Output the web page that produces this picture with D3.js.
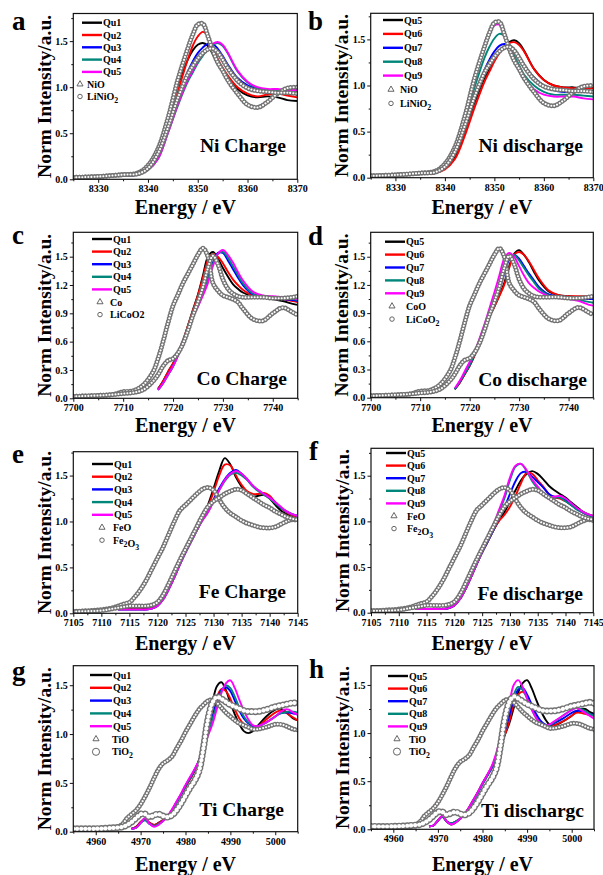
<!DOCTYPE html>
<html>
<head>
<meta charset="utf-8">
<script src="https://cdn.jsdelivr.net/npm/d3@7"></script>
<style>
body { margin: 0; background: #fff; }
svg { display: block; }
text { font-family: "Liberation Serif", "Times New Roman", "DejaVu Serif", serif; font-weight: bold; fill: #000; }
</style>
</head>
<body>
<svg id="fig" width="603" height="875"></svg>
<script>
// ---------- Ni K-edge ----------
var niEnergy = [8325, 8330, 8335, 8338, 8340, 8342, 8344, 8346, 8348, 8349, 8350, 8351, 8352, 8353, 8354, 8355, 8356, 8358, 8360, 8362, 8364, 8366, 8368, 8370];
var niQu1 = [null, null, 0.04, 0.06, 0.14, 0.33, 0.66, 1.02, 1.30, 1.40, 1.46, 1.48, 1.45, 1.36, 1.25, 1.17, 1.10, 0.98, 0.91, 0.89, 0.90, 0.89, 0.86, 0.85];
var niQu2 = [null, null, 0.04, 0.06, 0.13, 0.28, 0.58, 0.95, 1.30, 1.45, 1.55, 1.60, 1.56, 1.44, 1.31, 1.21, 1.13, 1.00, 0.93, 0.90, 0.92, 0.93, 0.91, 0.89];
var niQu3 = [null, null, 0.04, 0.05, 0.11, 0.25, 0.55, 0.90, 1.17, 1.28, 1.37, 1.43, 1.47, 1.47, 1.42, 1.34, 1.25, 1.10, 1.02, 0.98, 0.96, 0.96, 0.96, 0.96];
var niQu4 = [null, null, 0.04, 0.05, 0.10, 0.22, 0.50, 0.80, 1.06, 1.16, 1.26, 1.34, 1.41, 1.46, 1.48, 1.45, 1.37, 1.17, 1.05, 0.99, 0.97, 0.96, 0.96, 0.95];
var niQu5 = [null, null, 0.04, 0.05, 0.10, 0.22, 0.50, 0.81, 1.08, 1.18, 1.28, 1.36, 1.42, 1.47, 1.49, 1.46, 1.38, 1.18, 1.06, 1.00, 0.98, 0.98, 0.97, 0.97];
var niQu6 = [null, null, 0.04, 0.05, 0.09, 0.20, 0.45, 0.76, 1.04, 1.15, 1.26, 1.35, 1.42, 1.46, 1.47, 1.44, 1.37, 1.18, 1.06, 1.00, 0.98, 0.97, 0.97, 0.97];
var niQu7 = [null, null, 0.04, 0.06, 0.12, 0.27, 0.57, 0.90, 1.17, 1.28, 1.37, 1.43, 1.45, 1.44, 1.38, 1.30, 1.22, 1.09, 1.00, 0.95, 0.93, 0.93, 0.93, 0.93];
var niQu8 = [null, null, 0.04, 0.06, 0.13, 0.30, 0.62, 0.98, 1.30, 1.42, 1.51, 1.56, 1.54, 1.45, 1.33, 1.22, 1.12, 1.00, 0.93, 0.90, 0.90, 0.90, 0.89, 0.88];
var niQu9 = [null, null, 0.04, 0.07, 0.15, 0.34, 0.68, 1.08, 1.42, 1.56, 1.65, 1.66, 1.54, 1.38, 1.26, 1.16, 1.08, 0.96, 0.90, 0.88, 0.88, 0.88, 0.86, 0.85];
var niNiO = [0.02, 0.03, 0.05, 0.07, 0.15, 0.33, 0.66, 1.08, 1.42, 1.57, 1.68, 1.69, 1.56, 1.40, 1.27, 1.18, 1.08, 0.93, 0.81, 0.78, 0.84, 0.93, 0.99, 1.00];
var niLiNiO2 = [0.02, 0.03, 0.05, 0.06, 0.12, 0.28, 0.56, 0.88, 1.14, 1.23, 1.31, 1.37, 1.41, 1.42, 1.38, 1.30, 1.21, 1.07, 0.99, 0.96, 0.95, 0.94, 0.94, 0.93];

// ---------- Co K-edge ----------
var coEnergy = [7700, 7705, 7708, 7710, 7712, 7714, 7716, 7717, 7718, 7719, 7720, 7721, 7722, 7723, 7724, 7725, 7726, 7727, 7728, 7729, 7730, 7731, 7732, 7733, 7734, 7736, 7738, 7740, 7742, 7744, 7745];
var coQu1 = [null, null, null, null, null, null, null, 0.10, 0.18, 0.28, 0.37, 0.48, 0.61, 0.77, 0.94, 1.10, 1.30, 1.50, 1.55, 1.48, 1.38, 1.29, 1.21, 1.16, 1.12, 1.08, 1.07, 1.05, 1.03, 1.00, 0.99];
var coQu2 = [null, null, null, null, null, null, null, 0.10, 0.18, 0.28, 0.37, 0.48, 0.61, 0.77, 0.93, 1.09, 1.28, 1.46, 1.53, 1.50, 1.43, 1.34, 1.26, 1.20, 1.15, 1.09, 1.08, 1.07, 1.05, 1.03, 1.02];
var coQu3 = [null, null, null, null, null, null, null, 0.09, 0.16, 0.25, 0.34, 0.46, 0.60, 0.74, 0.88, 1.00, 1.12, 1.28, 1.44, 1.54, 1.54, 1.46, 1.37, 1.28, 1.20, 1.10, 1.08, 1.06, 1.05, 1.04, 1.03];
var coQu4 = [null, null, null, null, null, null, null, 0.09, 0.16, 0.25, 0.34, 0.46, 0.60, 0.74, 0.87, 0.99, 1.11, 1.26, 1.42, 1.53, 1.55, 1.49, 1.40, 1.31, 1.22, 1.11, 1.08, 1.07, 1.06, 1.05, 1.04];
var coQu5 = [null, null, null, null, null, null, null, 0.09, 0.16, 0.25, 0.34, 0.45, 0.59, 0.73, 0.86, 0.97, 1.09, 1.22, 1.40, 1.53, 1.57, 1.52, 1.44, 1.34, 1.25, 1.13, 1.09, 1.08, 1.07, 1.06, 1.05];
var coQu6 = [null, null, null, null, null, null, null, 0.09, 0.16, 0.25, 0.34, 0.45, 0.59, 0.73, 0.86, 0.97, 1.08, 1.20, 1.38, 1.52, 1.55, 1.52, 1.45, 1.36, 1.27, 1.14, 1.09, 1.08, 1.08, 1.08, 1.08];
var coQu7 = [null, null, null, null, null, null, null, 0.09, 0.17, 0.26, 0.35, 0.47, 0.61, 0.75, 0.89, 1.02, 1.15, 1.32, 1.47, 1.52, 1.48, 1.40, 1.32, 1.25, 1.18, 1.10, 1.08, 1.07, 1.06, 1.05, 1.05];
var coQu8 = [null, null, null, null, null, null, null, 0.09, 0.17, 0.26, 0.35, 0.47, 0.61, 0.76, 0.90, 1.04, 1.18, 1.36, 1.49, 1.52, 1.46, 1.38, 1.30, 1.23, 1.16, 1.09, 1.07, 1.06, 1.04, 1.02, 1.01];
var coQu9 = [null, null, null, null, null, null, null, 0.10, 0.18, 0.28, 0.38, 0.49, 0.63, 0.78, 0.95, 1.12, 1.30, 1.48, 1.54, 1.50, 1.40, 1.30, 1.22, 1.17, 1.13, 1.08, 1.06, 1.05, 1.03, 0.99, 0.98];
var coCoO = [0.02, 0.03, 0.04, 0.07, 0.08, 0.14, 0.28, 0.42, 0.60, 0.80, 0.98, 1.10, 1.22, 1.32, 1.42, 1.52, 1.59, 1.50, 1.22, 1.14, 1.09, 1.07, 1.05, 1.02, 0.95, 0.84, 0.82, 0.90, 0.96, 0.91, 0.88];
var coLiCoO2 = [0.02, 0.03, 0.04, 0.05, 0.06, 0.09, 0.18, 0.25, 0.34, 0.40, 0.42, 0.48, 0.58, 0.72, 0.88, 1.02, 1.18, 1.38, 1.51, 1.42, 1.26, 1.16, 1.11, 1.08, 1.07, 1.07, 1.07, 1.06, 1.06, 1.07, 1.08];

// ---------- Fe K-edge ----------
var feEnergy = [7105, 7110, 7112, 7113, 7114, 7115, 7116, 7117, 7118, 7119, 7120, 7121, 7122, 7123, 7124, 7125, 7126, 7127, 7128, 7129, 7130, 7131, 7132, 7133, 7134, 7135, 7136, 7137, 7138, 7139, 7140, 7141, 7142, 7143, 7144, 7145];
var feQu1 = [null, null, null, 0.05, 0.05, 0.05, 0.05, 0.05, 0.05, 0.06, 0.09, 0.16, 0.27, 0.40, 0.54, 0.67, 0.79, 0.91, 1.03, 1.18, 1.36, 1.55, 1.69, 1.62, 1.48, 1.38, 1.30, 1.27, 1.28, 1.29, 1.25, 1.18, 1.12, 1.08, 1.05, 1.03];
var feQu2 = [null, null, null, 0.05, 0.05, 0.05, 0.05, 0.05, 0.05, 0.06, 0.09, 0.16, 0.27, 0.40, 0.54, 0.67, 0.79, 0.91, 1.03, 1.16, 1.32, 1.50, 1.62, 1.61, 1.50, 1.40, 1.33, 1.30, 1.30, 1.31, 1.28, 1.21, 1.15, 1.10, 1.07, 1.05];
var feQu3 = [null, null, null, 0.04, 0.04, 0.04, 0.04, 0.04, 0.04, 0.05, 0.08, 0.15, 0.26, 0.39, 0.53, 0.66, 0.78, 0.90, 1.02, 1.12, 1.24, 1.36, 1.46, 1.53, 1.56, 1.52, 1.46, 1.39, 1.34, 1.30, 1.26, 1.21, 1.15, 1.11, 1.08, 1.06];
var feQu4 = [null, null, null, 0.04, 0.04, 0.04, 0.04, 0.04, 0.04, 0.05, 0.08, 0.15, 0.26, 0.39, 0.53, 0.66, 0.78, 0.90, 1.01, 1.10, 1.22, 1.34, 1.44, 1.51, 1.53, 1.50, 1.45, 1.38, 1.33, 1.29, 1.25, 1.20, 1.15, 1.11, 1.08, 1.06];
var feQu5 = [null, null, null, 0.04, 0.04, 0.04, 0.04, 0.04, 0.04, 0.05, 0.08, 0.15, 0.26, 0.39, 0.53, 0.66, 0.78, 0.90, 1.01, 1.10, 1.22, 1.34, 1.45, 1.52, 1.55, 1.52, 1.46, 1.39, 1.34, 1.30, 1.26, 1.21, 1.16, 1.11, 1.08, 1.06];
var feQu6 = [null, null, null, 0.04, 0.04, 0.04, 0.04, 0.04, 0.04, 0.05, 0.08, 0.15, 0.26, 0.39, 0.53, 0.66, 0.78, 0.90, 1.00, 1.07, 1.16, 1.28, 1.42, 1.53, 1.52, 1.45, 1.38, 1.30, 1.26, 1.25, 1.22, 1.18, 1.14, 1.10, 1.07, 1.05];
var feQu7 = [null, null, null, 0.04, 0.04, 0.04, 0.04, 0.04, 0.04, 0.05, 0.08, 0.15, 0.26, 0.39, 0.53, 0.66, 0.78, 0.90, 1.03, 1.15, 1.30, 1.44, 1.53, 1.54, 1.49, 1.43, 1.37, 1.30, 1.27, 1.26, 1.23, 1.18, 1.14, 1.10, 1.07, 1.05];
var feQu8 = [null, null, null, 0.04, 0.04, 0.04, 0.04, 0.04, 0.04, 0.05, 0.08, 0.15, 0.26, 0.39, 0.53, 0.67, 0.80, 0.94, 1.10, 1.25, 1.45, 1.60, 1.63, 1.55, 1.44, 1.36, 1.29, 1.25, 1.26, 1.26, 1.22, 1.18, 1.13, 1.10, 1.07, 1.05];
var feQu9 = [null, null, null, 0.04, 0.04, 0.04, 0.04, 0.04, 0.04, 0.05, 0.08, 0.15, 0.26, 0.39, 0.53, 0.67, 0.81, 0.96, 1.12, 1.28, 1.48, 1.61, 1.63, 1.56, 1.46, 1.38, 1.31, 1.27, 1.27, 1.28, 1.25, 1.20, 1.15, 1.11, 1.08, 1.06];
var feFeO = [0.02, 0.04, 0.06, 0.08, 0.10, 0.12, 0.18, 0.26, 0.36, 0.48, 0.60, 0.72, 0.86, 1.00, 1.12, 1.18, 1.24, 1.30, 1.35, 1.37, 1.34, 1.24, 1.15, 1.09, 1.05, 1.01, 0.98, 0.96, 0.94, 0.93, 0.93, 0.94, 0.97, 1.00, 1.02, 1.01];
var feFe2O3 = [0.02, 0.03, 0.05, 0.06, 0.07, 0.08, 0.08, 0.08, 0.08, 0.09, 0.12, 0.20, 0.32, 0.45, 0.58, 0.70, 0.82, 0.94, 1.06, 1.16, 1.22, 1.26, 1.30, 1.33, 1.35, 1.34, 1.30, 1.26, 1.22, 1.18, 1.15, 1.11, 1.08, 1.05, 1.03, 1.02];

// ---------- Ti K-edge ----------
var tiEnergy = [4955, 4960, 4964, 4966, 4967, 4968, 4969, 4970, 4971, 4972, 4973, 4974, 4975, 4976, 4977, 4978, 4979, 4980, 4981, 4982, 4983, 4984, 4985, 4986, 4987, 4988, 4989, 4990, 4991, 4992, 4993, 4994, 4995, 4996, 4998, 5000, 5001, 5002, 5003, 5004, 5005];
var tiQu1 = [null, null, null, null, null, 0.03, 0.05, 0.10, 0.13, 0.09, 0.07, 0.09, 0.12, 0.16, 0.22, 0.30, 0.38, 0.46, 0.54, 0.62, 0.73, 0.90, 1.10, 1.32, 1.49, 1.53, 1.45, 1.32, 1.20, 1.10, 1.03, 1.01, 1.03, 1.08, 1.18, 1.25, 1.26, 1.24, 1.20, 1.16, 1.14];
var tiQu2 = [null, null, null, null, null, 0.03, 0.05, 0.10, 0.13, 0.09, 0.07, 0.09, 0.12, 0.16, 0.22, 0.30, 0.38, 0.46, 0.54, 0.62, 0.72, 0.87, 1.04, 1.22, 1.38, 1.46, 1.44, 1.36, 1.25, 1.16, 1.10, 1.06, 1.05, 1.07, 1.15, 1.22, 1.24, 1.23, 1.20, 1.17, 1.14];
var tiQu3 = [null, null, null, null, null, 0.03, 0.04, 0.09, 0.12, 0.08, 0.06, 0.08, 0.11, 0.16, 0.22, 0.30, 0.38, 0.47, 0.55, 0.63, 0.73, 0.86, 1.02, 1.18, 1.34, 1.45, 1.48, 1.44, 1.34, 1.24, 1.16, 1.11, 1.08, 1.08, 1.12, 1.18, 1.21, 1.22, 1.22, 1.21, 1.20];
var tiQu4 = [null, null, null, null, null, 0.03, 0.04, 0.09, 0.12, 0.08, 0.06, 0.08, 0.11, 0.16, 0.22, 0.30, 0.38, 0.47, 0.55, 0.63, 0.72, 0.85, 1.00, 1.15, 1.30, 1.44, 1.50, 1.47, 1.38, 1.27, 1.18, 1.12, 1.09, 1.08, 1.12, 1.18, 1.21, 1.22, 1.23, 1.23, 1.22];
var tiQu5 = [null, null, null, null, null, 0.03, 0.04, 0.09, 0.14, 0.08, 0.05, 0.07, 0.11, 0.16, 0.23, 0.31, 0.39, 0.48, 0.56, 0.64, 0.73, 0.84, 0.98, 1.10, 1.26, 1.42, 1.52, 1.55, 1.47, 1.35, 1.24, 1.15, 1.09, 1.08, 1.12, 1.18, 1.22, 1.25, 1.25, 1.22, 1.20];
var tiQu6 = [null, null, null, null, null, 0.03, 0.04, 0.09, 0.13, 0.08, 0.06, 0.08, 0.11, 0.16, 0.22, 0.30, 0.38, 0.47, 0.55, 0.63, 0.73, 0.86, 0.98, 1.12, 1.30, 1.40, 1.43, 1.38, 1.28, 1.18, 1.12, 1.08, 1.07, 1.08, 1.12, 1.18, 1.21, 1.21, 1.20, 1.19, 1.18];
var tiQu7 = [null, null, null, null, null, 0.03, 0.04, 0.09, 0.13, 0.08, 0.06, 0.08, 0.11, 0.16, 0.22, 0.30, 0.38, 0.47, 0.55, 0.63, 0.74, 0.88, 1.02, 1.18, 1.35, 1.45, 1.47, 1.40, 1.30, 1.20, 1.13, 1.09, 1.08, 1.10, 1.15, 1.21, 1.23, 1.23, 1.22, 1.20, 1.19];
var tiQu8 = [null, null, null, null, null, 0.03, 0.04, 0.09, 0.13, 0.08, 0.06, 0.08, 0.11, 0.16, 0.22, 0.30, 0.38, 0.47, 0.55, 0.64, 0.76, 0.92, 1.08, 1.25, 1.40, 1.48, 1.45, 1.36, 1.25, 1.16, 1.10, 1.08, 1.08, 1.11, 1.18, 1.24, 1.26, 1.25, 1.23, 1.20, 1.18];
var tiQu9 = [null, null, null, null, null, 0.03, 0.04, 0.09, 0.14, 0.08, 0.05, 0.07, 0.11, 0.16, 0.23, 0.31, 0.39, 0.48, 0.56, 0.65, 0.78, 0.95, 1.10, 1.30, 1.50, 1.55, 1.48, 1.36, 1.25, 1.16, 1.10, 1.08, 1.09, 1.12, 1.18, 1.24, 1.26, 1.24, 1.21, 1.18, 1.15];
var tiTiO = [0.02, 0.02, 0.03, 0.08, 0.14, 0.18, 0.22, 0.28, 0.36, 0.45, 0.55, 0.64, 0.70, 0.73, 0.77, 0.85, 0.93, 1.02, 1.10, 1.18, 1.25, 1.30, 1.34, 1.35, 1.32, 1.27, 1.22, 1.18, 1.14, 1.11, 1.09, 1.07, 1.05, 1.05, 1.07, 1.10, 1.10, 1.09, 1.07, 1.05, 1.04];
var tiTiO2 = [0.03, 0.03, 0.04, 0.05, 0.07, 0.10, 0.14, 0.18, 0.18, 0.15, 0.17, 0.18, 0.16, 0.15, 0.17, 0.22, 0.29, 0.37, 0.45, 0.52, 0.62, 0.86, 1.15, 1.32, 1.38, 1.36, 1.33, 1.30, 1.28, 1.26, 1.24, 1.23, 1.23, 1.23, 1.25, 1.28, 1.29, 1.30, 1.31, 1.32, 1.31];

// ---------- ticks and labels ----------
var niXTicks = [8330, 8340, 8350, 8360, 8370];
var coXTicks = [7700, 7710, 7720, 7730, 7740];
var feXTicks = [7105, 7110, 7115, 7120, 7125, 7130, 7135, 7140, 7145];
var tiXTicks = [4960, 4970, 4980, 4990, 5000];
var yTicksHalf = [0, 0.5, 1.0, 1.5];
var coYTicks = [0, 0.3, 0.6, 0.9, 1.2, 1.5];
var chargeNames = ["Qu1", "Qu2", "Qu3", "Qu4", "Qu5"];
var dischargeNames = ["Qu5", "Qu6", "Qu7", "Qu8", "Qu9"];

var colors = ["#000000", "#ff0000", "#0000ff", "#00877a", "#ff00ff"];

// layout of the eight panels
var panels = [
  { letter: "a", lx: 12, ly: 30, left: 73.3, right: 297.3, top: 13.5, bottom: 179.3, yMax: 1.80, xDomain: [8325, 8370], xStep: 10,
    xTicks: niXTicks, yTicks: yTicksHalf, yStep: 0.5, energy: niEnergy, lines: [niQu1, niQu2, niQu3, niQu4, niQu5], names: chargeNames,
    refs: [niNiO, niLiNiO2], refNames: ["NiO", "LiNiO_2"], big: false,
    leg: { x0: 82, x1: 102, sx: 80, tx: 87, y: 22.7, dy: 12.3 }, note: "Ni Charge", nx: 286, ny: 151.7, ty: 213.5 },
  { letter: "b", lx: 308, ly: 30, left: 370.7, right: 593.3, top: 13.3, bottom: 177.7, yMax: 1.783, xDomain: [8325, 8370], xStep: 10,
    xTicks: niXTicks, yTicks: yTicksHalf, yStep: 0.5, energy: niEnergy, lines: [niQu5, niQu6, niQu7, niQu8, niQu9], names: dischargeNames,
    refs: [niNiO, niLiNiO2], refNames: ["NiO", "LiNiO_2"], big: false,
    leg: { x0: 383, x1: 403, sx: 391, tx: 400, y: 20, dy: 13.9 }, note: "Ni discharge", nx: 583, ny: 151.7, ty: 213.5 },
  { letter: "c", lx: 12, ly: 244, left: 73.3, right: 297.7, top: 232.3, bottom: 398.3, yMax: 1.758, xDomain: [7700, 7745], xStep: 10,
    xTicks: coXTicks, yTicks: coYTicks, yStep: 0.3, energy: coEnergy, lines: [coQu1, coQu2, coQu3, coQu4, coQu5], names: chargeNames,
    refs: [coCoO, coLiCoO2], refNames: ["Co", "LiCoO2"], big: false,
    leg: { x0: 92, x1: 112, sx: 100, tx: 110, y: 239, dy: 12.6 }, note: "Co Charge", nx: 287, ny: 385, ty: 431.5 },
  { letter: "d", lx: 308, ly: 245, left: 370.7, right: 593.3, top: 232.3, bottom: 397.7, yMax: 1.76, xDomain: [7700, 7745], xStep: 10,
    xTicks: coXTicks, yTicks: coYTicks, yStep: 0.3, energy: coEnergy, lines: [coQu5, coQu6, coQu7, coQu8, coQu9], names: dischargeNames,
    refs: [coCoO, coLiCoO2], refNames: ["CoO", "LiCoO_2"], big: false,
    leg: { x0: 385, x1: 405, sx: 392, tx: 406, y: 241.7, dy: 12.9 }, note: "Co discharge", nx: 587, ny: 385.7, ty: 431.5 },
  { letter: "e", lx: 12, ly: 463, left: 73.3, right: 297.7, top: 451.7, bottom: 613.3, yMax: 1.76, xDomain: [7105, 7145], xStep: 5,
    xTicks: feXTicks, yTicks: yTicksHalf, yStep: 0.5, energy: feEnergy, lines: [feQu1, feQu2, feQu3, feQu4, feQu5], names: chargeNames,
    refs: [feFeO, feFe2O3], refNames: ["FeO", "Fe_2O_3"], big: false,
    leg: { x0: 92, x1: 113, sx: 102, tx: 113, y: 464, dy: 12.7 }, note: "Fe Charge", nx: 286, ny: 598, ty: 650 },
  { letter: "f", lx: 309, ly: 460, left: 371, right: 593.3, top: 448.3, bottom: 612.7, yMax: 1.80, xDomain: [7105, 7145], xStep: 5,
    xTicks: feXTicks, yTicks: yTicksHalf, yStep: 0.5, energy: feEnergy, lines: [feQu5, feQu6, feQu7, feQu8, feQu9], names: dischargeNames,
    refs: [feFeO, feFe2O3], refNames: ["FeO", "Fe_2O_3"], big: false,
    leg: { x0: 386, x1: 406, sx: 394, tx: 407, y: 453, dy: 12.6 }, note: "Fe discharge", nx: 583, ny: 600, ty: 650 },
  { letter: "g", lx: 12, ly: 680, left: 73.3, right: 297.7, top: 665.7, bottom: 831.7, yMax: 1.70, xDomain: [4955, 5005], xStep: 10,
    xTicks: tiXTicks, yTicks: yTicksHalf, yStep: 0.5, energy: tiEnergy, lines: [tiQu1, tiQu2, tiQu3, tiQu4, tiQu5], names: chargeNames,
    refs: [tiTiO, tiTiO2], refNames: ["TiO", "TiO_2"], big: true,
    leg: { x0: 90, x1: 112, sx: 96, tx: 112, y: 675, dy: 12.8 }, note: "Ti Charge", nx: 284, ny: 815.7, ty: 871 },
  { letter: "h", lx: 309, ly: 678, left: 371, right: 594, top: 665.7, bottom: 829.3, yMax: 1.70, xDomain: [4955, 5005], xStep: 10,
    xTicks: tiXTicks, yTicks: yTicksHalf, yStep: 0.5, energy: tiEnergy, lines: [tiQu5, tiQu6, tiQu7, tiQu8, tiQu9], names: dischargeNames,
    refs: [tiTiO, tiTiO2], refNames: ["TiO", "TiO_2"], big: true,
    leg: { x0: 388, x1: 408, sx: 397, tx: 409, y: 676, dy: 12.6 }, note: "Ti dischargc", nx: 584, ny: 816.7, ty: 871 }
];

var svg = d3.select("#fig");
var defs = svg.append("defs");

// writes "LiNiO_2" as LiNiO with a subscript 2
function subText(sel, str, size) {
  var parts = str.split(/(_\d)/);
  parts.forEach(function(t) {
    if (t === "") return;
    if (t[0] === "_") {
      sel.append("tspan").attr("font-size", size * 0.78).attr("dy", 3).text(t.slice(1));
      sel.append("tspan").attr("dy", -3).text("");
    } else {
      sel.append("tspan").text(t);
    }
  });
}

function minorTicks(domain, step, majors) {
  return d3.range(domain[0], domain[1] + 1e-6, step / 2).filter(function(v) {
    return majors.every(function(m) { return Math.abs(m - v) > 1e-6; });
  });
}

panels.forEach(function(p, pi) {
  var x = d3.scaleLinear().domain(p.xDomain).range([p.left, p.right]);
  var y = d3.scaleLinear().domain([0, p.yMax]).range([p.bottom, p.top]);
  var g = svg.append("g").attr("class", "panel");

  defs.append("clipPath").attr("id", "clip" + pi)
    .append("rect")
    .attr("x", p.left).attr("y", p.top)
    .attr("width", p.right - p.left).attr("height", p.bottom - p.top);

  // axes
  var xMinor = g.append("g").attr("transform", "translate(0," + p.bottom + ")")
    .call(d3.axisBottom(x).tickValues(minorTicks(p.xDomain, p.xStep, p.xTicks)).tickSize(2).tickFormat(""));
  var xMajor = g.append("g").attr("transform", "translate(0," + p.bottom + ")")
    .call(d3.axisBottom(x).tickValues(p.xTicks).tickSize(3.5).tickPadding(2.5).tickFormat(d3.format("d")));
  var yMinor = g.append("g").attr("transform", "translate(" + p.left + ",0)")
    .call(d3.axisLeft(y).tickValues(minorTicks([0, p.yMax], p.yStep, p.yTicks)).tickSize(2).tickFormat(""));
  var yMajor = g.append("g").attr("transform", "translate(" + p.left + ",0)")
    .call(d3.axisLeft(y).tickValues(p.yTicks).tickSize(3.5).tickPadding(2).tickFormat(d3.format(".1f")));
  [xMinor, xMajor, yMinor, yMajor].forEach(function(a) {
    a.select(".domain").remove();
    a.selectAll("line").attr("stroke", "#111").attr("stroke-width", 1);
    a.selectAll("text").attr("font-size", 10);
  });

  var plot = g.append("g").attr("clip-path", "url(#clip" + pi + ")");

  var line = d3.line()
    .defined(function(d) { return d[1] != null; })
    .x(function(d) { return x(d[0]); })
    .y(function(d) { return y(d[1]); })
    .curve(d3.curveCatmullRom.alpha(0.5));

  p.lines.forEach(function(vals, i) {
    var pts = p.energy.map(function(e, j) { return [e, vals[j]]; });
    plot.append("path").datum(pts)
      .attr("d", line)
      .attr("fill", "none")
      .attr("stroke", colors[i])
      .attr("stroke-width", 1.9);
  });

  // reference spectra: chains of open grey markers
  p.refs.forEach(function(vals, k) {
    var pts = p.energy.map(function(e, j) { return [e, vals[j]]; });
    var big = p.big && k === 1;
    var outer = big ? 7 : 5;
    var inner = big ? 4.2 : 2.1;
    var gap = big ? 4 : 3;
    plot.append("path").datum(pts)
      .attr("d", line)
      .attr("fill", "none")
      .attr("stroke", "#737373")
      .attr("stroke-width", outer)
      .attr("stroke-linecap", "round")
      .attr("stroke-dasharray", "0.01 " + gap);
    plot.append("path").datum(pts)
      .attr("d", line)
      .attr("fill", "none")
      .attr("stroke", "#ffffff")
      .attr("stroke-width", inner)
      .attr("stroke-linecap", "round")
      .attr("stroke-dasharray", "0.01 " + gap);
  });

  // frame
  g.append("rect")
    .attr("x", p.left).attr("y", p.top)
    .attr("width", p.right - p.left).attr("height", p.bottom - p.top)
    .attr("fill", "none").attr("stroke", "#111").attr("stroke-width", 1.2);

  // legend
  var lg = g.append("g");
  p.names.forEach(function(name, i) {
    var cy = p.leg.y + i * p.leg.dy;
    lg.append("line")
      .attr("x1", p.leg.x0).attr("x2", p.leg.x1)
      .attr("y1", cy).attr("y2", cy)
      .attr("stroke", colors[i]).attr("stroke-width", 2.4);
    lg.append("text")
      .attr("x", p.leg.x1 + 1).attr("y", cy).attr("dy", "0.35em")
      .attr("font-size", 10)
      .text(name);
  });
  p.refNames.forEach(function(name, k) {
    var cy = p.leg.y + (5 + k) * p.leg.dy;
    var big = p.big && k === 1;
    lg.append("path")
      .attr("d", d3.symbol().type(k === 0 ? d3.symbolTriangle : d3.symbolCircle).size(big ? 40 : 16)())
      .attr("transform", "translate(" + p.leg.sx + "," + cy + ")")
      .attr("fill", "none").attr("stroke", "#555").attr("stroke-width", 0.9);
    var t = lg.append("text")
      .attr("x", p.leg.tx).attr("y", cy).attr("dy", "0.35em")
      .attr("font-size", 10);
    subText(t, name, 10);
  });

  // panel note, letter and axis titles
  g.append("text").attr("x", p.nx).attr("y", p.ny)
    .attr("text-anchor", "end").attr("font-size", 19.5).text(p.note);
  g.append("text").attr("x", p.lx).attr("y", p.ly)
    .attr("font-size", 27).text(p.letter);
  g.append("text")
    .attr("transform", "translate(" + (p.left - 22.5) + "," + ((p.top + p.bottom) / 2) + ") rotate(-90)")
    .attr("text-anchor", "middle").attr("font-size", 19.5)
    .text("Norm Intensity/a.u.");
  g.append("text")
    .attr("x", (p.left + p.right) / 2).attr("y", p.ty)
    .attr("text-anchor", "middle").attr("font-size", 20)
    .text("Energy / eV");
});
</script>
</body>
</html>
